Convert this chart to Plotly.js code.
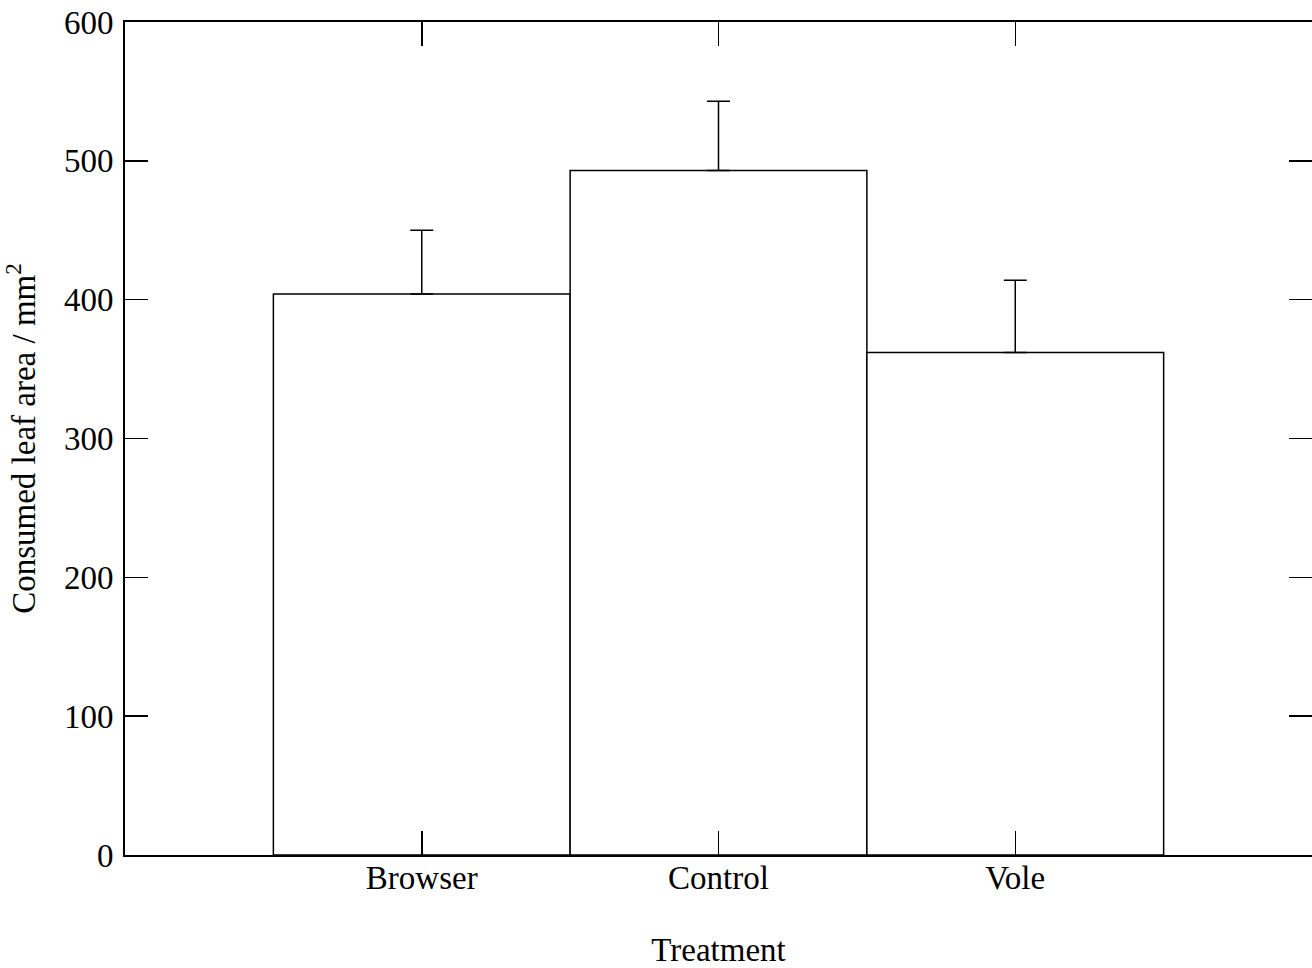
<!DOCTYPE html>
<html>
<head>
<meta charset="utf-8">
<script src="https://cdn.plot.ly/plotly-3.0.1.min.js"></script>
<style>html,body{margin:0;padding:0;background:#fff;}#chart{width:1312px;height:968px;}</style>
</head>
<body>
<div id="chart"></div>
<script>
const treatments = ["Browser", "Control", "Vole"];
const consumedArea = [404, 493, 362];
const errorUpper = [46, 50, 52];
const errorLower = [0, 0, 0];
const yTickValues = [0, 100, 200, 300, 400, 500, 600];

const font = "Liberation Serif, Times New Roman, serif";
const fs = 33;

const trace = {
  type: "bar",
  x: treatments,
  y: consumedArea,
  marker: {color: "#ffffff", line: {color: "#000000", width: 1.5}},
  error_y: {type: "data", symmetric: false, array: errorUpper, arrayminus: errorLower,
            visible: true, color: "#000000", thickness: 1.5, width: 11.5},
  hoverinfo: "skip"
};

const layout = {
  width: 1312, height: 968,
  margin: {l: 125, r: 0, t: 22, b: 113},
  paper_bgcolor: "#ffffff", plot_bgcolor: "#ffffff",
  bargap: 0,
  showlegend: false,
  font: {family: font, size: fs, color: "#000000"},
  xaxis: {
    type: "category",
    range: [-1, 3],
    showline: true, linecolor: "#000000", linewidth: 2,
    mirror: "ticks",
    ticks: "inside", ticklen: 24, tickwidth: 1.5, tickcolor: "#000000",
    showgrid: false, zeroline: false,
    ticklabelstandoff: -8,
    tickfont: {family: font, size: fs, color: "#000000"},
    title: {text: "Treatment", font: {family: font, size: fs, color: "#000000"}, standoff: 44}
  },
  yaxis: {
    range: [0, 600],
    tickvals: yTickValues,
    showline: true, linecolor: "#000000", linewidth: 2,
    mirror: "ticks",
    ticks: "inside", ticklen: 23, tickwidth: 1.5, tickcolor: "#000000",
    showgrid: false, zeroline: false,
    ticklabelstandoff: 3,
    tickfont: {family: font, size: fs, color: "#000000"},
    title: {text: "Consumed leaf area / mm<sup>2</sup>", font: {family: font, size: fs, color: "#000000"}, standoff: 20}
  }
};

Plotly.newPlot("chart", [trace], layout, {displayModeBar: false, staticPlot: true});
</script>
</body>
</html>
